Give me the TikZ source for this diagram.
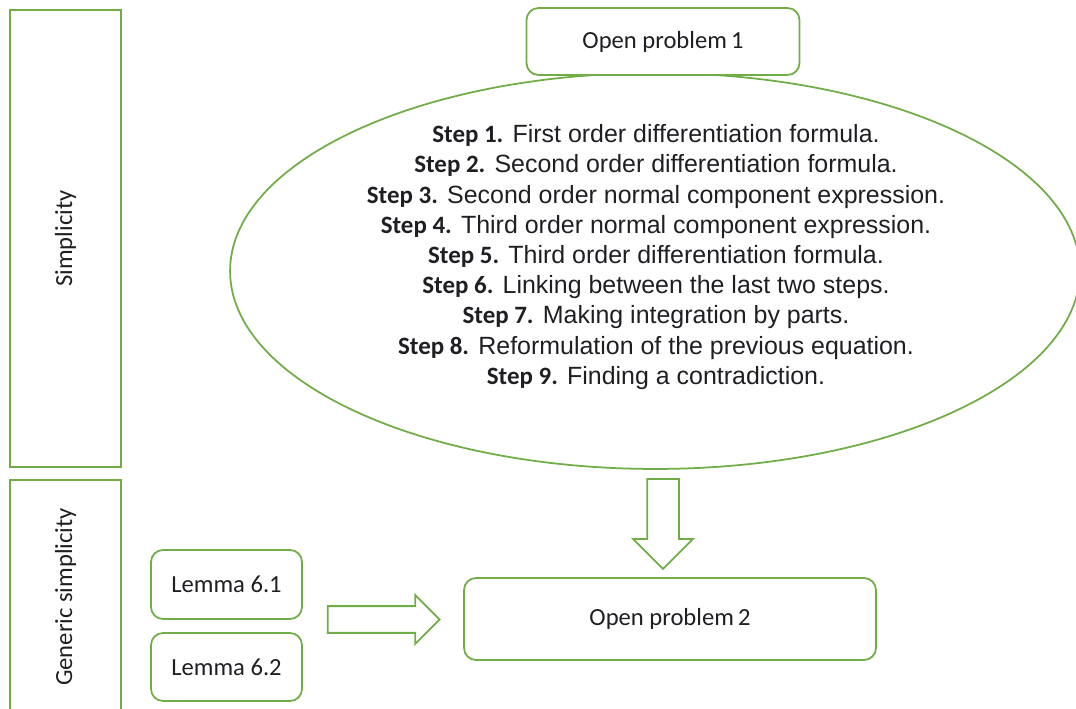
\documentclass[tikz,border=0pt]{standalone}
\usepackage{fontspec}
\setmainfont{Liberation Sans}
\newfontfamily\calibri{Carlito}
\usepackage{xcolor}
\usepackage{tikz}
\usetikzlibrary{positioning, shapes.geometric, shapes.arrows}

\definecolor{officegreen}{RGB}{112,173,71}
\definecolor{inkblack}{RGB}{30,30,35}

\newcommand{\stepno}[1]{{\calibri\bfseries Step #1.}}

\tikzset{
  greenline/.style={draw=officegreen, line width=1pt},
  probbox/.style={greenline, rounded corners=0.24cm, font=\calibri\fontsize{14}{16}\selectfont, text=inkblack},
  sidebar/.style={greenline, rotate=90, font=\calibri\fontsize{14}{16}\selectfont, text=inkblack},
  blockarrow/.style={greenline, single arrow, inner sep=0pt, single arrow head indent=0pt}
}

\begin{document}
\begin{tikzpicture}[x=0.02cm, y=-0.02cm]
  \useasboundingbox (0,0) rectangle (1076,709);
  \clip (0,0) rectangle (1076,709);

  % side bars
  \node[sidebar, minimum width=9.14cm, minimum height=2.22cm] (simp) at (65.5,238.5) {Simplicity};
  \node[sidebar, minimum width=4.68cm, minimum height=2.22cm] (gensimp) at (65.5,597) {Generic simplicity};

  % ellipse with the steps
  \node[greenline, ellipse, minimum width=17cm, minimum height=7.92cm] (steps) at (655,271) {};
  \node[align=center, text=inkblack, font=\fontsize{14.2}{17.2}\selectfont] (stepstext) at (656,257) {%
    \stepno{1} First order differentiation formula.\\
    \stepno{2} Second order differentiation formula.\\
    \stepno{3} Second order normal component expression.\\
    \stepno{4} Third order normal component expression.\\
    \stepno{5} Third order differentiation formula.\\
    \stepno{6} Linking between the last two steps.\\
    \stepno{7} Making integration by parts.\\
    \stepno{8} Reformulation of the previous equation.\\
    \stepno{9} Finding a contradiction.};

  % boxes
  \node[probbox, fill=white, minimum width=5.46cm, minimum height=1.34cm] (op1) at (663,41.5) {Open problem\,1};
  \node[probbox, minimum width=8.24cm, minimum height=1.64cm] (op2) at (670,619) {Open problem\,2};
  \node[probbox, minimum width=3.02cm, minimum height=1.38cm] (lem1) at (226.5,584.5) {Lemma 6.1};
  \node[probbox, minimum width=3.02cm, minimum height=1.36cm] (lem2) at (226.5,667) {Lemma 6.2};

  % block arrows
  \node[blockarrow, minimum height=2.24cm, minimum width=0.94cm, inner ysep=0.25cm,
        single arrow head extend=0.22cm] (toop2) at (377,619.5) {};
  \node[blockarrow, shape border rotate=270, minimum height=1.8cm, minimum width=1.16cm,
        inner xsep=0.3cm, single arrow head extend=0.28cm] (down) at (663,516) {};
\end{tikzpicture}
\end{document}
